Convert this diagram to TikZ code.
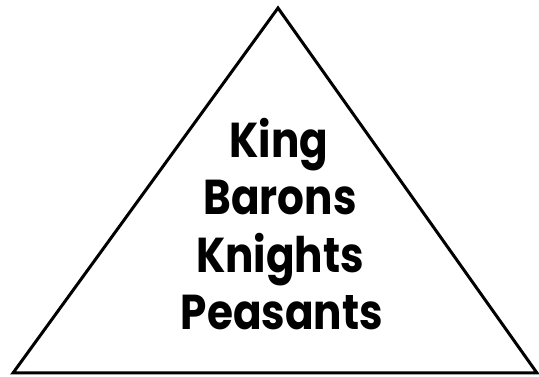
\documentclass[tikz,border=0pt]{standalone}
\usepackage{fontspec}
\setmainfont{Poppins}[UprightFont=* Bold,FakeStretch=0.86]
\begin{document}
\begin{tikzpicture}[x=1pt,y=1pt,
  lbl/.style={anchor=base,inner sep=0pt,font=\fontsize{49}{49}\selectfont}]
\useasboundingbox (0,0) rectangle (539,377);
\coordinate (top) at (278,369);
\coordinate (bl) at (13,4);
\coordinate (br) at (537,4);
\draw[line width=3pt,line join=miter] (bl) -- (top) -- (br) -- cycle;
\node[lbl] (king) at (279,219) {King};
\node[lbl] (barons) at (280,162) {Barons};
\node[lbl] (knights) at (280,104) {Knights};
\node[lbl] (peasants) at (282,47) {Peasants};
\end{tikzpicture}
\end{document}
